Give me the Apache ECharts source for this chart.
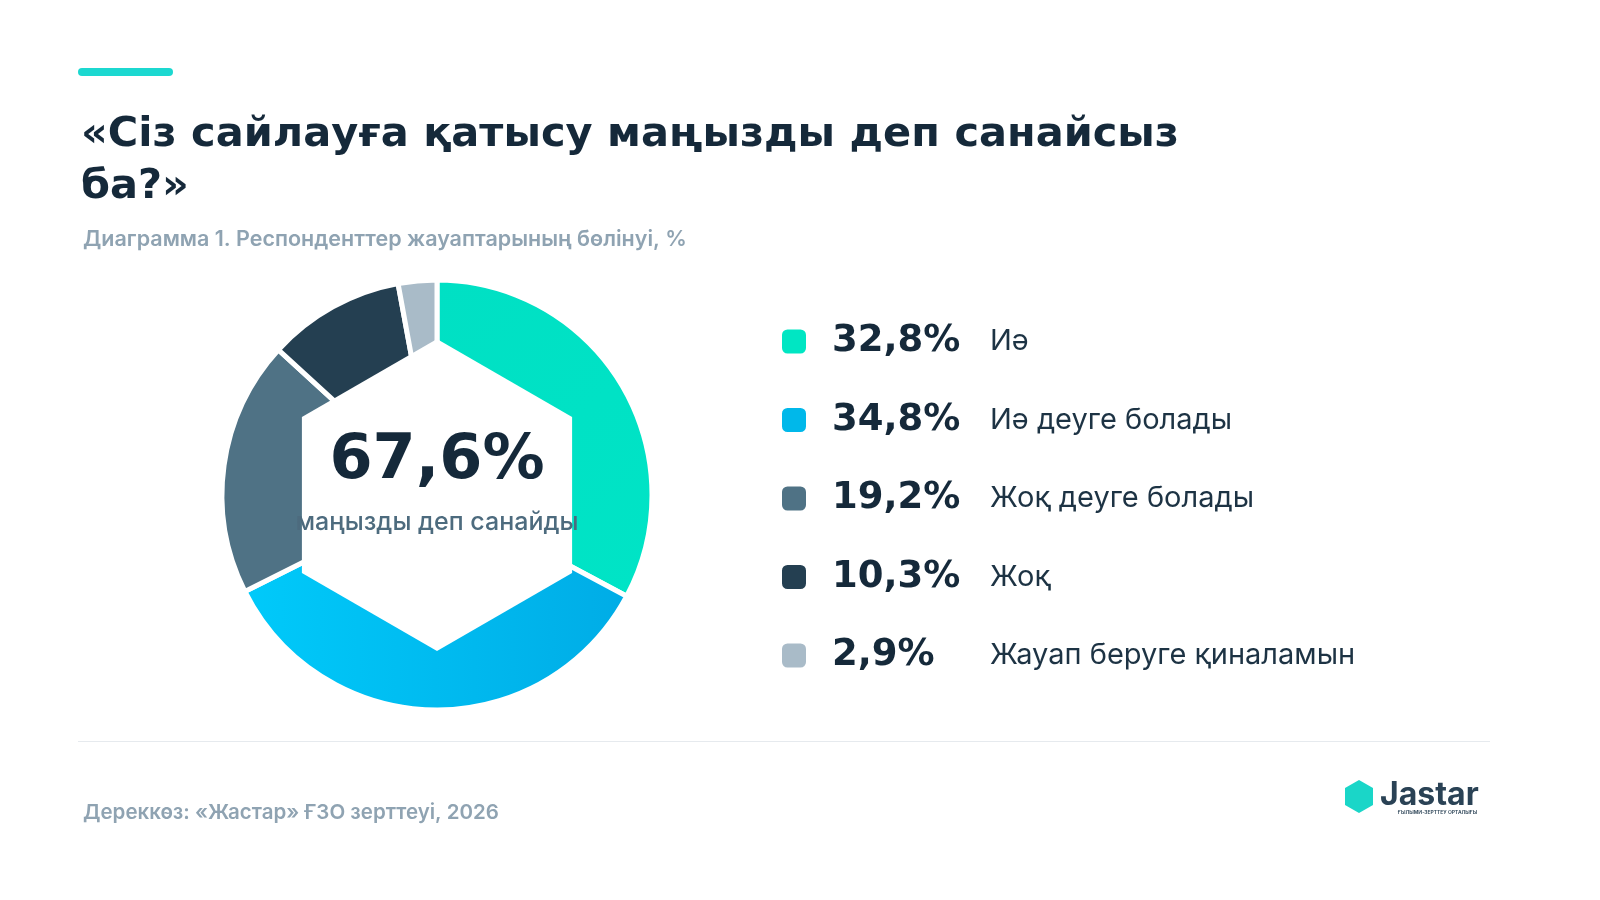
<!DOCTYPE html><html><head><meta charset="utf-8"><script src="https://cdn.jsdelivr.net/npm/echarts@6/dist/echarts.min.js"></script>
<style>html,body{margin:0;background:#fff}#c{width:1600px;height:900px}</style></head><body><div id="c"></div>
<script>
const categories=['Иә','Иә деуге болады','Жоқ деуге болады','Жоқ','Жауап беруге қиналамын'];
const values=[32.8,34.8,19.2,10.3,2.9];
const labels=['32,8%','34,8%','19,2%','10,3%','2,9%'];
const centerValue='67,6%';
const colors=[
 {type:'linear',x:0,y:0,x2:1,y2:1,colorStops:[{offset:0,color:'#00e0c4'},{offset:1,color:'#00e4c6'}]},
 {type:'linear',x:0,y:0,x2:1,y2:0,colorStops:[{offset:0,color:'#00cafa'},{offset:1,color:'#00ace6'}]},
 '#4f7285','#243f51','#a9bbc8'];
const legendColors=['#00e6c3','#00b8ea','#4f7285','#243f51','#a9bbc8'];
const ch=echarts.init(document.getElementById('c'));
const F='Inter, "Noto Sans", sans-serif';
const B='"DejaVu Sans", sans-serif';
const cx=437,cy=495,R=215;
const hex=[];for(let i=0;i<6;i++){const a=-Math.PI/2+i*Math.PI/3;hex.push([cx+156*Math.cos(a),cy+156*Math.sin(a)]);}
ch.setOption({
 animation:false,
 title:[{text:'«Сіз сайлауға қатысу маңызды деп санайсыз\nба?»',left:76,top:104,textStyle:{fontFamily:B,fontSize:41.5,fontWeight:'bold',color:'#15293a',lineHeight:52}},
  {text:'Диаграмма 1. Респонденттер жауаптарының бөлінуі, %',left:78,top:224,textStyle:{fontFamily:F,fontSize:21.5,fontWeight:600,color:'#8fa3b2'}},
  {text:'Дереккөз: «Жастар» ҒЗО зерттеуі, 2026',left:78,top:797,textStyle:{fontFamily:F,fontSize:20.5,fontWeight:600,color:'#8fa3b2'}}],
 legend:{orient:'vertical',left:775,top:318,itemWidth:26,itemHeight:26,itemGap:41.5,icon:'roundRect',
  data:categories.map((c,i)=>({name:c,itemStyle:{color:legendColors[i]}})),
  formatter:n=>{const i=categories.indexOf(n);return '{v|'+labels[i]+'}{n|'+n+'}';},
  textStyle:{rich:{v:{fontFamily:B,fontSize:37,fontWeight:'bold',color:'#15293a',width:158,padding:[0,0,0,20]},n:{fontFamily:F,fontSize:29,color:'#1d3344'}}}},
 series:[{type:'pie',center:[cx,cy],radius:[128,R],startAngle:90,clockwise:true,label:{show:false},emphasis:{disabled:true},
  itemStyle:{borderColor:'#fff',borderWidth:5},
  data:categories.map((c,i)=>({name:c,value:values[i],itemStyle:{color:colors[i]}}))}],
 graphic:[
  {type:'rect',shape:{x:78,y:68,width:95,height:8,r:4},style:{fill:'#1cd8d0'}},
  {type:'polygon',shape:{points:hex},style:{fill:'#fff'},z:10},
  {type:'text',x:cx,y:462,z:11,style:{text:centerValue,font:'bold 62px '+B,fill:'#15293a',align:'center',verticalAlign:'middle'}},
  {type:'text',x:cx,y:522,z:11,style:{text:'маңызды деп санайды',font:'500 25px '+F,fill:'#4d6b7e',align:'center',verticalAlign:'middle'}},
  {type:'rect',shape:{x:78,y:741,width:1412,height:1},style:{fill:'#e6eaee'}},
  {type:'polygon',shape:{points:[[1359,780],[1373,788],[1373,805],[1359,813],[1345,805],[1345,788]]},style:{fill:'#1ad6c8'}},
  {type:'text',x:1380,y:795,style:{text:'Jastar',font:'700 32px '+F,fill:'#2a4255',verticalAlign:'middle'}},
  {type:'text',x:1398,y:810,style:{text:'ҒЫЛЫМИ-ЗЕРТТЕУ ОРТАЛЫҒЫ',font:'600 5px '+F,fill:'#2a4255'}}
 ]
});
</script></body></html>
